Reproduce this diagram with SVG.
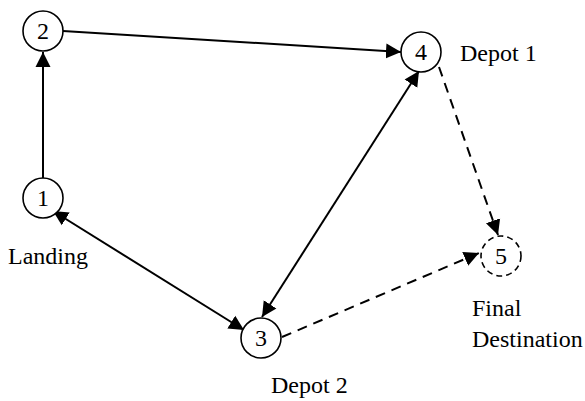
<svg xmlns="http://www.w3.org/2000/svg" width="585" height="401" viewBox="0 0 585 401">
<style>
.node{fill:#fff;stroke:#000;stroke-width:1.6}
.dnode{fill:#fff;stroke:#000;stroke-width:1.6;stroke-dasharray:6 4}
.num{font-family:"Liberation Serif","Times New Roman",serif;font-size:24px;text-anchor:middle;fill:#000}
.lbl{font-family:"Liberation Serif","Times New Roman",serif;font-size:24px;fill:#000}
.edge{fill:none;stroke:#000;stroke-width:2}
.dash{stroke-dasharray:10 7}
</style>
<defs>
<marker id="ah" markerUnits="userSpaceOnUse" markerWidth="16" markerHeight="16" refX="15" refY="7.5" orient="auto-start-reverse" viewBox="0 0 16 15">
<path d="M0,0 L15,7.5 L0,15 z" fill="#000"/>
</marker>
</defs>
<rect width="585" height="401" fill="#fff"/>
<g id="connectors">
<line class="edge" x1="43" y1="178" x2="43" y2="52" marker-end="url(#ah)"/>
<line class="edge" x1="63" y1="31" x2="401" y2="52" marker-end="url(#ah)"/>
<line class="edge" x1="53" y1="211" x2="244" y2="330" marker-start="url(#ah)" marker-end="url(#ah)"/>
<line class="edge" x1="262" y1="317" x2="419" y2="71" marker-start="url(#ah)" marker-end="url(#ah)"/>
<line class="edge dash" x1="282" y1="337" x2="479" y2="253" marker-end="url(#ah)"/>
<line class="edge dash" x1="439" y1="67" x2="498" y2="235" marker-end="url(#ah)"/>
</g>
<g id="node2"><circle class="node" cx="43" cy="31" r="20"/><text class="num" x="43" y="39">2</text></g>
<g id="node4"><circle class="node" cx="421" cy="52" r="20"/><text class="num" x="421" y="60">4</text></g>
<g id="node1"><circle class="node" cx="43" cy="198" r="20"/><text class="num" x="43" y="206">1</text></g>
<g id="node3"><circle class="node" cx="261" cy="338" r="20"/><text class="num" x="261" y="346">3</text></g>
<g id="node5"><circle class="dnode" cx="501" cy="256" r="20"/><text class="num" x="501" y="264">5</text></g>
<g id="labels">
<text class="lbl" x="460" y="61">Depot 1</text>
<text class="lbl" x="8" y="264">Landing</text>
<text class="lbl" x="472" y="316">Final</text>
<text class="lbl" x="472" y="347">Destination</text>
<text class="lbl" x="271" y="393">Depot 2</text>
</g>
</svg>
